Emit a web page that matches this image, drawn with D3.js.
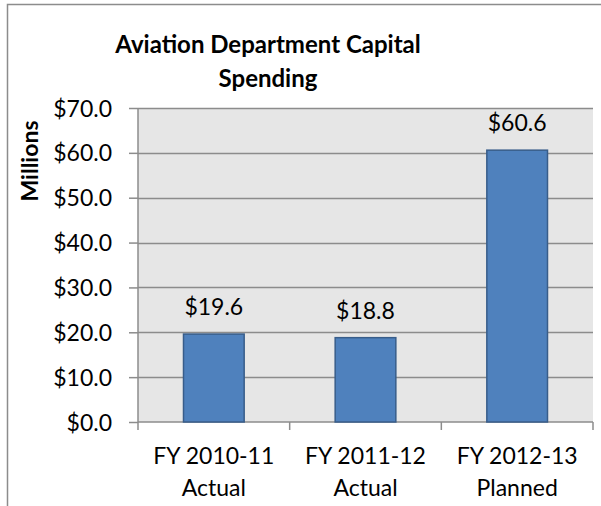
<!DOCTYPE html>
<html>
<head>
<meta charset="utf-8">
<script src="https://cdn.jsdelivr.net/npm/d3@7"></script>
<style>
  body { margin: 0; background: #fff; }
  svg { display: block; }
  text { font-family: Lato, "Open Sans", sans-serif; fill: #000; }
</style>
</head>
<body>
<svg id="chart" width="601" height="506"></svg>
<script>
// Capital spending by fiscal year, in millions of dollars
const categories = [["FY 2010-11", "Actual"], ["FY 2011-12", "Actual"], ["FY 2012-13", "Planned"]];
const spending = [19.6, 18.8, 60.6];
const yTicks = [0, 10, 20, 30, 40, 50, 60, 70];

const svg = d3.select("#chart");
const plot = { left: 138, right: 593, top: 108, bottom: 422 };
const labelSize = "23px";

// outer frame of the chart
svg.append("rect")
  .attr("x", 7.5).attr("y", 4.5)
  .attr("width", 620).attr("height", 540)
  .attr("fill", "#fff").attr("stroke", "#8c8c8c").attr("stroke-width", 1.5);

const x = d3.scaleBand()
  .domain(categories.map((d, i) => i))
  .range([plot.left, plot.right])
  .padding(0);

const y = d3.scaleLinear().domain([0, 70]).range([plot.bottom, plot.top]);

// plot area background
svg.append("rect")
  .attr("x", plot.left).attr("y", plot.top)
  .attr("width", plot.right - plot.left).attr("height", plot.bottom - plot.top)
  .attr("fill", "#e6e6e6");

// horizontal gridlines
svg.append("g").selectAll("line")
  .data(yTicks.filter(t => t > 0))
  .join("line")
  .attr("x1", plot.left).attr("x2", plot.right)
  .attr("y1", d => Math.round(y(d)) + 0.5).attr("y2", d => Math.round(y(d)) + 0.5)
  .attr("stroke", "#8c8c8c").attr("stroke-width", 1.5);

// y axis
const yAxis = svg.append("g")
  .attr("transform", `translate(${plot.left},0)`)
  .call(d3.axisLeft(y).tickValues(yTicks).tickSize(9).tickPadding(17)
    .tickFormat(d => "$" + d3.format(".1f")(d)));
yAxis.attr("font-family", null).attr("font-size", null);
yAxis.select(".domain").attr("stroke", "#8c8c8c").attr("stroke-width", 1.5)
  .attr("d", `M0,${plot.top}V${plot.bottom}`);
yAxis.selectAll(".tick line").attr("stroke", "#8c8c8c").attr("stroke-width", 1.5);
yAxis.selectAll(".tick text").style("font-size", labelSize).attr("fill", "#000").attr("dy", "0.35em");

// x axis
const xAxisG = svg.append("g");
xAxisG.append("line")
  .attr("x1", plot.left).attr("x2", plot.right)
  .attr("y1", plot.bottom).attr("y2", plot.bottom)
  .attr("stroke", "#8c8c8c").attr("stroke-width", 1.5);
const boundaries = categories.map((d, i) => x(i)).concat([x(categories.length - 1) + x.bandwidth()]);
xAxisG.selectAll("line.tick")
  .data(boundaries)
  .join("line").attr("class", "tick")
  .attr("x1", d => d).attr("x2", d => d)
  .attr("y1", plot.bottom).attr("y2", plot.bottom + 8)
  .attr("stroke", "#8c8c8c").attr("stroke-width", 1.5);

const labels = xAxisG.selectAll("text.cat")
  .data(categories)
  .join("text").attr("class", "cat")
  .attr("x", (d, i) => x(i) + x.bandwidth() / 2)
  .attr("y", 464)
  .attr("text-anchor", "middle")
  .style("font-size", labelSize);
labels.append("tspan").attr("x", (d, i) => x(i) + x.bandwidth() / 2).text(d => d[0]);
labels.append("tspan").attr("x", (d, i) => x(i) + x.bandwidth() / 2).attr("dy", 32).text(d => d[1]);

// bars
const barW = x.bandwidth() * 0.4;
svg.append("g").selectAll("rect")
  .data(spending)
  .join("rect")
  .attr("x", (d, i) => x(i) + (x.bandwidth() - barW) / 2)
  .attr("y", d => y(d))
  .attr("width", barW)
  .attr("height", d => y(0) - y(d))
  .attr("fill", "#4f81bd")
  .attr("stroke", "#385d8a").attr("stroke-width", 1.5);

// value labels
svg.append("g").selectAll("text")
  .data(spending)
  .join("text")
  .attr("x", (d, i) => x(i) + x.bandwidth() / 2)
  .attr("y", d => y(d) - 19)
  .attr("text-anchor", "middle")
  .style("font-size", labelSize)
  .text(d => "$" + d3.format(".1f")(d));

// title
const title = svg.append("text")
  .attr("x", 268).attr("y", 53)
  .attr("text-anchor", "middle")
  .style("font-size", "24px").style("font-weight", "bold");
title.append("tspan").attr("x", 268).text("Aviation Department Capital");
title.append("tspan").attr("x", 268).attr("dy", 34).text("Spending");

// y axis title
svg.append("text")
  .attr("transform", "translate(38,161) rotate(-90)")
  .attr("text-anchor", "middle")
  .style("font-size", "23px").style("font-weight", "bold")
  .text("Millions");
</script>
</body>
</html>
